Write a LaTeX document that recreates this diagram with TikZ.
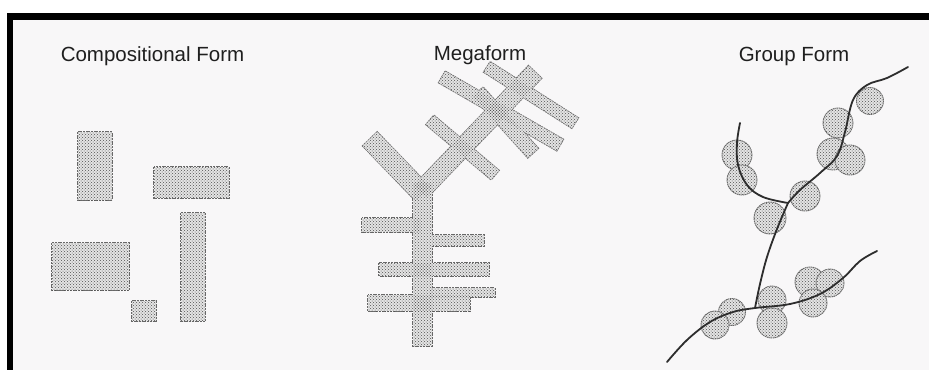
\documentclass[tikz,border=0pt]{standalone}
\usepackage{fontspec}
\setmainfont{Liberation Sans}
\usetikzlibrary{calc,patterns}
\definecolor{bgc}{RGB}{248,247,248}
\definecolor{outl}{RGB}{105,105,105}
\definecolor{fillc}{RGB}{228,228,228}
\definecolor{dotc}{RGB}{80,80,80}
\definecolor{linec}{RGB}{45,45,45}
\newcommand\rbar[3]{($(#1)!#3!90:(#2)$) -- ($(#2)!#3!-90:(#1)$) -- ($(#2)!#3!90:(#1)$) -- ($(#1)!#3!-90:(#2)$) -- cycle}
\newcommand\allshapes[1]{%
  % compositional form
  \path[#1] (78,132) rectangle (112,200);
  \path[#1] (154,167) rectangle (229,198);
  \path[#1] (181,213) rectangle (205,321);
  \path[#1] (52,243) rectangle (129,290);
  \path[#1] (132,301) rectangle (156,321);
  % megaform
  \path[#1] (413,183) rectangle (432,346);
  \path[#1] \rbar{423,194}{370,139}{10pt};
  \path[#1] \rbar{420,192}{535,72}{9pt};
  \path[#1] \rbar{487,67}{575,123}{6pt};
  \path[#1] \rbar{442,77}{560,145}{6.5pt};
  \path[#1] \rbar{478,92}{533,153}{7pt};
  \path[#1] \rbar{430,120}{495,175}{6pt};
  \path[#1] (362,218) rectangle (420,232);
  \path[#1] (432,235) rectangle (484,246);
  \path[#1] (379,263) rectangle (489,276);
  \path[#1] (430,288) rectangle (495,297);
  \path[#1] (368,295) rectangle (470,311);
}
\tikzset{
  stip/.style={preaction={fill=fillc}, pattern=crosshatch dots, pattern color=dotc, draw=outl, line width=0.9, dash pattern=on 1.5pt off 0.6pt},
  title/.style={font=\fontsize{20.5}{24}\selectfont, text=black!88, anchor=base},
  road/.style={draw=linec, line width=1.8, line cap=round, line join=round}
}
\begin{document}
\begin{tikzpicture}[x=1pt,y=-1pt]
\useasboundingbox (0,0) rectangle (929,370);
\fill[white] (0,0) rectangle (929,370);
\fill[bgc] (10,16) rectangle (929,370);
% border
\fill[black] (7,12.5) rectangle (929,19.5);
\fill[black] (7,12.5) rectangle (12.7,370);
% titles
\node[title] (t1) at (152.5,61) {Compositional Form};
\node[title] (t2) at (480,60) {Megaform};
\node[title] (t3) at (794,61) {Group Form};
% stippled shapes: outline, fill, texture
\allshapes{draw=outl, line width=1.6, dash pattern=on 2pt off 0.7pt}
\allshapes{fill=fillc}
\allshapes{pattern=crosshatch dots, pattern color=dotc}
% group form circles
\foreach \cx/\cy/\r in {870/101/13.5, 838/123/15, 833/154/16, 850/160/15,
  737/155/15, 742/180/15, 805/196/15, 770/218/16,
  732/312/13.5, 715/325/14, 772/300/14, 772/323/15, 810/282/15, 830/283/14, 813/303/14}
  \path[stip] (\cx,\cy) circle[radius=\r];
% group form paths
\coordinate (jl) at (755,308);
\coordinate (ju) at (788,203);
\draw[road] plot[smooth, tension=0.6] coordinates {(667,362) (687,340) (710,322) (733,312) (755,308) (790,304) (820,294) (843,278) (860,261) (877,251)};
\draw[road] plot[smooth, tension=0.6] coordinates {(755,308) (760,284) (767,257) (777,229) (788,203)};
\draw[road] plot[smooth, tension=0.6] coordinates {(788,203) (763,197) (747,185) (738,165) (737,143) (740,123)};
\draw[road] plot[smooth, tension=0.6] coordinates {(788,203) (800,190) (820,173) (837,156) (845,132) (853,100) (867,85) (887,78) (908,67)};
\end{tikzpicture}
\end{document}
